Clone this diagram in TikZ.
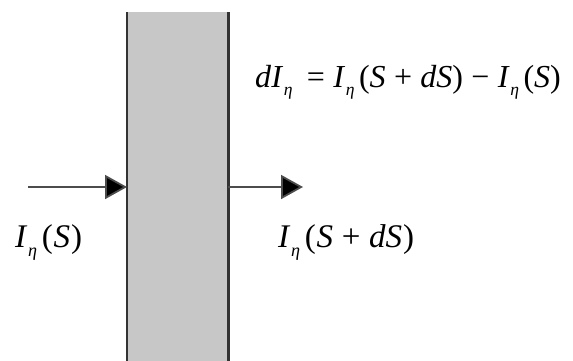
\documentclass[tikz,border=0pt]{standalone}
\usepackage{fontspec}
\setmainfont{Liberation Serif}
\usetikzlibrary{arrows.meta}
\newcommand{\Ieta}{\textit{I}\kern0.02em\raisebox{-0.28em}{\scalebox{0.55}{\textit{η}}}\kern0.14em}
\newcommand{\opsp}[1]{\kern0.26em#1\kern0.26em}
\begin{document}
\begin{tikzpicture}[x=1pt,y=-1pt,
  wall/.style={draw=black!80, line width=2.4pt},
  ray/.style={draw=black!70, line width=1.8pt, -{Triangle[length=22pt,width=24pt,fill=black]}},
  lbl/.style={inner sep=0pt, anchor=base west, font=\fontsize{33}{35}\selectfont}]
\useasboundingbox (0,0) rectangle (573,360);
\node[fill=black!22, draw=none, minimum width=101pt, minimum height=350pt, inner sep=0pt, anchor=north west] (slab) at (127,12) {};
\draw[wall] (slab.north west) -- (slab.south west);
\draw[wall] (slab.north east) -- (slab.south east);
\coordinate (inA) at (28,187);
\coordinate (outB) at (303,187);
\draw[ray] (inA) -- (inA -| slab.west);
\draw[ray] (outB -| slab.east) -- (outB);
\node[lbl] (l1) at (15,247) {\Ieta(\kern0.03em\textit{S}\kern0.03em)};
\node[lbl] (l2) at (278,247) {\Ieta(\kern0.03em\textit{S}\opsp{+}\textit{dS}\kern0.03em)};
\node[lbl, font=\fontsize{32}{34}\selectfont] (eq) at (255,87) {\textit{d}\Ieta\kern0.05em\opsp{=}\Ieta(\textit{S}\opsp{+}\textit{dS})\opsp{−}\Ieta(\textit{S})};
\end{tikzpicture}
\end{document}
